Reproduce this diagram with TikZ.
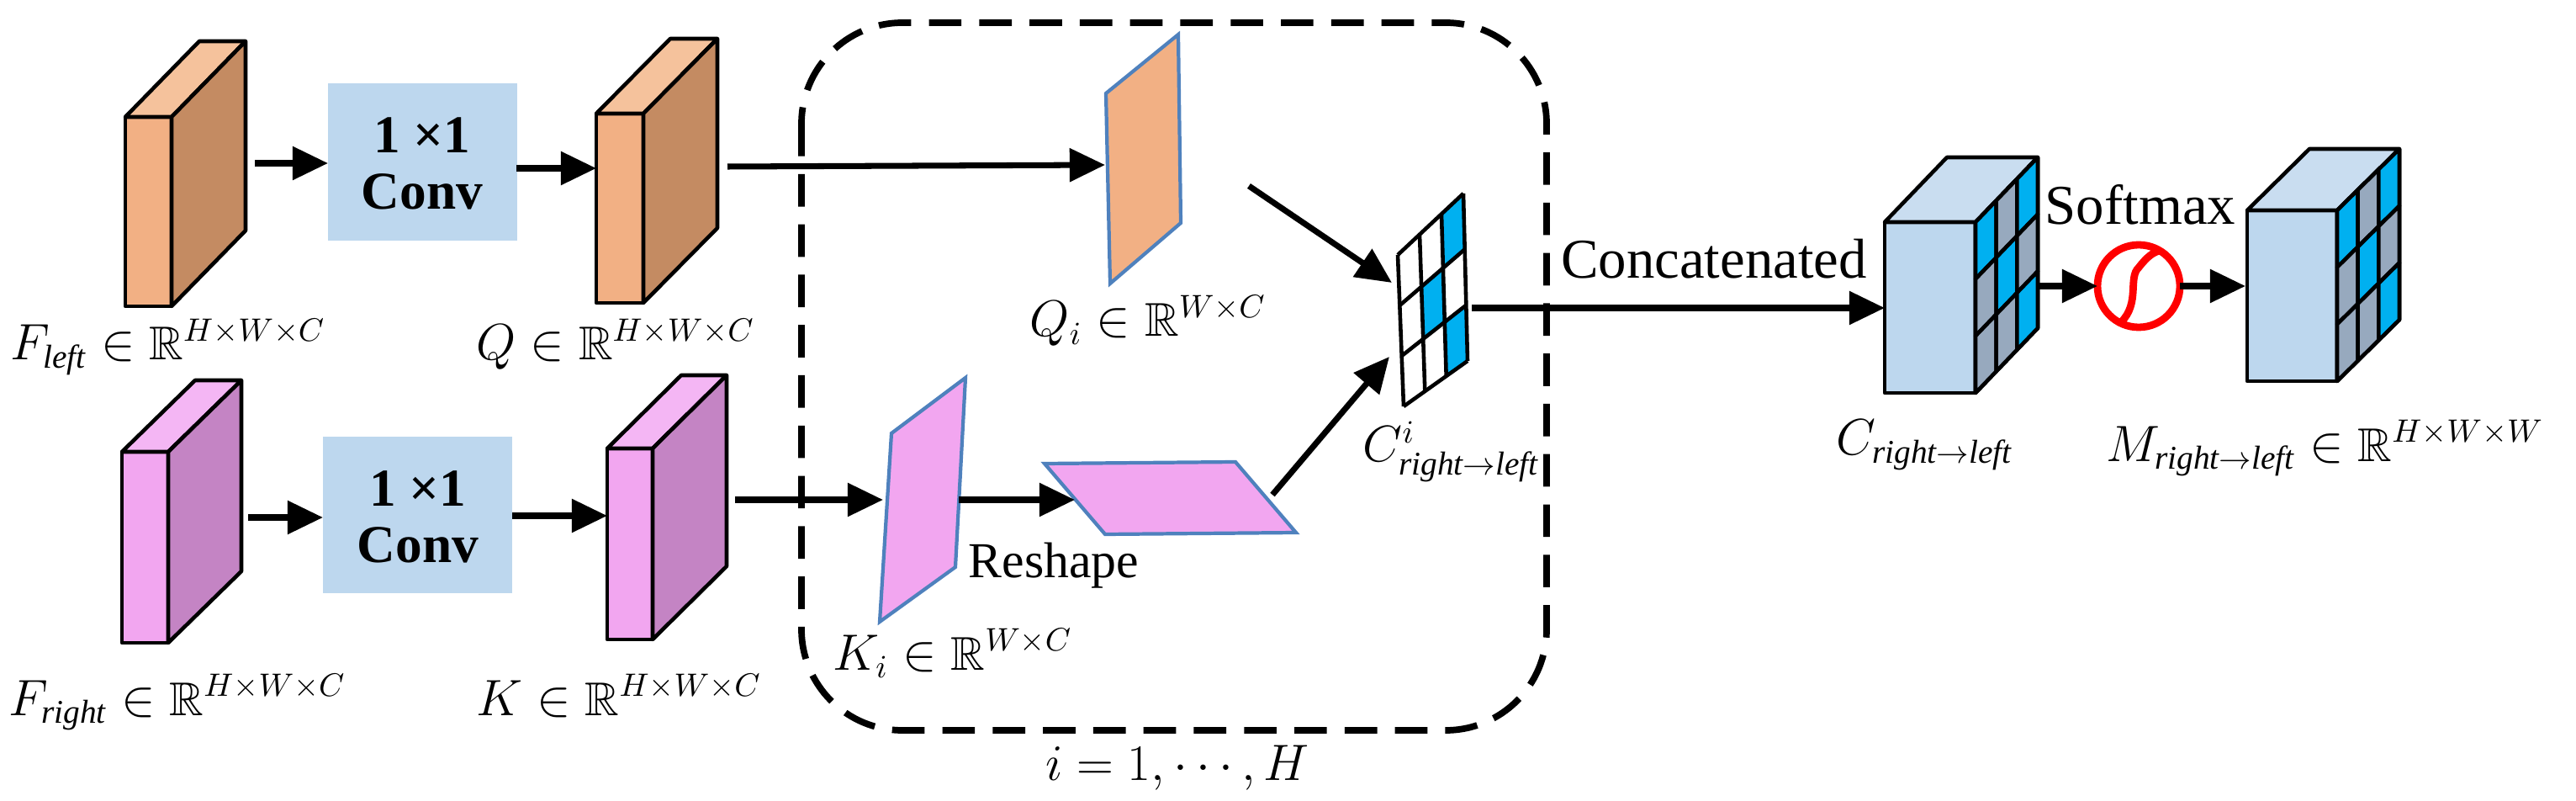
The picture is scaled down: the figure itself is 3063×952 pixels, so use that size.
\documentclass[tikz,border=0pt]{standalone}
\usepackage{amssymb}
\usepackage{fontspec}
\setmainfont{Liberation Serif}
\usetikzlibrary{arrows.meta,calc}
\definecolor{orF}{HTML}{F2B084}\definecolor{orS}{HTML}{C48B62}\definecolor{orT}{HTML}{F5C29C}
\definecolor{pkF}{HTML}{F2A6F0}\definecolor{pkS}{HTML}{C484C4}\definecolor{pkT}{HTML}{F4B6F4}
\definecolor{convC}{HTML}{BDD7EE}\definecolor{cbT}{HTML}{C9DDF0}\definecolor{cbG}{HTML}{97A9BE}
\definecolor{cbB}{HTML}{00B0F0}\definecolor{edgeB}{HTML}{4F81BD}
\newcommand\mycube[9]{%x y w h dx dy front side top
 \filldraw[fill=#7,cubeline] (#1,#2) rectangle ({#1+#3},{#2+#4});
 \filldraw[fill=#9,cubeline] (#1,#2) -- ({#1+#5},{#2+#6}) -- ({#1+#3+#5},{#2+#6}) -- ({#1+#3},#2) -- cycle;
 \filldraw[fill=#8,cubeline] ({#1+#3},#2) -- ({#1+#3+#5},{#2+#6}) -- ({#1+#3+#5},{#2+#6+#4}) -- ({#1+#3},{#2+#4}) -- cycle;}
\newcommand\sidegrid[5]{%
 \foreach \u/\v/\c in {0/0/cbB,0/1/cbG,0/2/cbG,1/0/cbG,1/1/cbB,1/2/cbG,2/0/cbB,2/1/cbG,2/2/cbB}{
  \filldraw[fill=\c,cubeline]
   ({#1+\u/3*#4},{#2+\u/3*#5+\v/3*#3}) -- ({#1+(\u+1)/3*#4},{#2+(\u+1)/3*#5+\v/3*#3}) --
   ({#1+(\u+1)/3*#4},{#2+(\u+1)/3*#5+(\v+1)/3*#3}) -- ({#1+\u/3*#4},{#2+\u/3*#5+(\v+1)/3*#3}) -- cycle;}}
\newcommand\bil[2]{({(1-#2)*((1-#1)*1662+#1*1740)+#2*((1-#1)*1669+#1*1745)},{(1-#2)*((1-#1)*303+#1*230)+#2*((1-#1)*483+#1*429)})}
\begin{document}
\begin{tikzpicture}[x=0.01cm,y=-0.01cm,
 cubeline/.style={draw=black,line width=1.3pt,line join=round},
 arr/.style={line width=2pt,-{Triangle[length=12pt,width=11pt]}},
 lab/.style={font=\fontsize{16}{19}\selectfont,inner sep=0pt,anchor=base west},
 txt/.style={font=\fontsize{19}{23}\selectfont,inner sep=0pt},
 para/.style={draw=edgeB,line width=1.2pt}]
\useasboundingbox (0,0) rectangle (3063,952);
% dashed box
\draw[line width=2.2pt,dash pattern=on 11pt off 6pt,rounded corners=1.2cm] (953,27) rectangle (1839,868);
% cubes
\mycube{149}{139}{55}{225}{88}{-90}{orF}{orS}{orT}
\mycube{709}{135}{56}{225}{88}{-89}{orF}{orS}{orT}
\mycube{145}{537}{55}{227}{87}{-85}{pkF}{pkS}{pkT}
\mycube{722}{533}{54}{227}{88}{-87}{pkF}{pkS}{pkT}
\mycube{2241}{264}{108}{203}{74}{-77}{convC}{cbG}{cbT}
\sidegrid{2349}{264}{203}{74}{-77}
\mycube{2672}{250}{107}{203}{74}{-73}{convC}{cbG}{cbT}
\sidegrid{2779}{250}{203}{74}{-73}
% conv boxes
\fill[convC] (390,99) rectangle (615,286);
\fill[convC] (384,519) rectangle (609,705);
\node[font=\fontsize{18}{22}\selectfont\bfseries,inner sep=0pt] (c1a) at (502,161) {1 ×1};
\node[font=\fontsize{18}{22}\selectfont\bfseries,inner sep=0pt] (c1b) at (502,228) {Conv};
\node[font=\fontsize{18}{22}\selectfont\bfseries,inner sep=0pt] (c2a) at (497,581) {1 ×1};
\node[font=\fontsize{18}{22}\selectfont\bfseries,inner sep=0pt] (c2b) at (497,648) {Conv};
% parallelograms
\filldraw[fill=orF,para] (1315,111) -- (1401,41) -- (1404,265) -- (1320,337) -- cycle;
\filldraw[fill=pkF,para] (1060,515) -- (1148,449) -- (1136,674) -- (1046,739) -- cycle;
\filldraw[fill=pkF,para] (1242,551) -- (1469,549) -- (1541,633) -- (1314,635) -- cycle;
% grid
\foreach \u/\v in {2/0,1/1,2/2}{\fill[cbB] \bil{\u/3}{\v/3} -- \bil{(\u+1)/3}{\v/3} -- \bil{(\u+1)/3}{(\v+1)/3} -- \bil{\u/3}{(\v+1)/3} -- cycle;}
\foreach \t in {0,1,2,3}{\draw[line width=1.3pt] \bil{\t/3}{0} -- \bil{\t/3}{1}; \draw[line width=1.3pt] \bil{0}{\t/3} -- \bil{1}{\t/3};}
% softmax circle
\draw[red,line width=2.5pt] (2543,340) circle (49);
\draw[red,line width=2.5pt] (2522,383) .. controls (2545,360) and (2530,330) .. (2543,318) .. controls (2553,305) and (2560,300) .. (2568,298);
% coordinates
\coordinate (a1s) at (303,194); \coordinate (a1e) at (390,194);
\coordinate (a2s) at (614,200); \coordinate (a2e) at (709,200);
\coordinate (a3s) at (865,198); \coordinate (a3e) at (1314,196);
\coordinate (a4s) at (295,615); \coordinate (a4e) at (384,615);
\coordinate (a5s) at (609,613); \coordinate (a5e) at (722,613);
\coordinate (a6s) at (874,594); \coordinate (a6e) at (1050,594);
\coordinate (a7s) at (1140,594); \coordinate (a7e) at (1278,594);
\coordinate (a8s) at (1513,588); \coordinate (a8e) at (1652,424);
\coordinate (a9s) at (1485,221); \coordinate (a9e) at (1655,336);
\coordinate (a10s) at (1750,366); \coordinate (a10e) at (2241,366);
\coordinate (a11s) at (2423,340); \coordinate (a11e) at (2494,340);
\coordinate (a12s) at (2592,340); \coordinate (a12e) at (2670,340);
\foreach \i in {1,...,12}{\draw[arr] (a\i s) -- (a\i e);}
% labels
\node[lab] (lfl) at (12,428) {$F_{\mathit{left}}\in\mathbb{R}^{H\times W\times C}$};
\node[lab] (lq) at (566,428) {$Q\in\mathbb{R}^{H\times W\times C}$};
\node[lab] (lfr) at (10,850) {$F_{\mathit{right}}\in\mathbb{R}^{H\times W\times C}$};
\node[lab] (lk) at (566,850) {$K\in\mathbb{R}^{H\times W\times C}$};
\node[lab] (lqi) at (1224,400) {$Q_i\in\mathbb{R}^{W\times C}$};
\node[lab] (lki) at (990,796) {$K_i\in\mathbb{R}^{W\times C}$};
\node[lab] (lci) at (1620,549) {$C^i_{\mathit{right}\rightarrow \mathit{left}}$};
\node[lab] (lc) at (2183,541) {$C_{\mathit{right}\rightarrow \mathit{left}}$};
\node[lab] (lm) at (2504,548) {$M_{\mathit{right}\rightarrow \mathit{left}}\in\mathbb{R}^{H\times W\times W}$};
\node[lab,anchor=base] (li) at (1400,927) {$i=1,\cdots,H$};
\node[txt,font=\fontsize{17}{20}\selectfont,anchor=base west] (lr) at (1151,686) {Reshape};
\node[txt] (lcat) at (2038,308) {Concatenated};
\node[txt] (lsm) at (2545,243) {Softmax};
\end{tikzpicture}
\end{document}
